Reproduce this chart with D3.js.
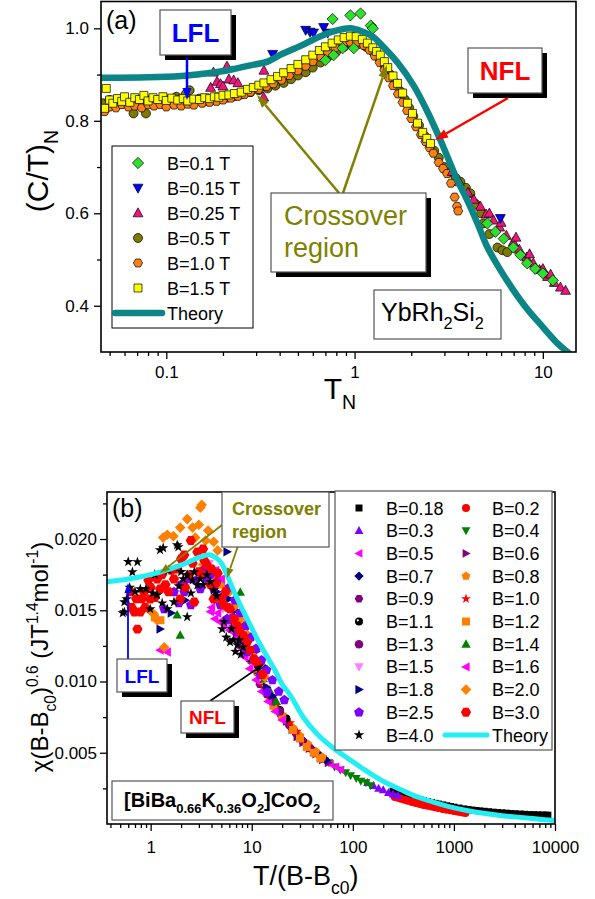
<!DOCTYPE html>
<html>
<head>
<meta charset="utf-8">
<script src="https://cdn.jsdelivr.net/npm/d3@7"></script>
<style>
  body { margin: 0; background: #fff; }
  svg text { font-family: "Liberation Sans", Arial, sans-serif; white-space: pre; }
</style>
</head>
<body>
<svg id="chart" width="595" height="899"></svg>
<script>
// ---------- panel (a): YbRh2Si2, (C/T)_N vs T_N ----------
const aB01 = [[0.70,0.931],[0.764,1.02],[0.774,0.942],[0.864,0.957],[0.95,1.028],[0.99,0.957],[1.076,1.032],[1.22,1.006],[1.25,1.0],
  [5.07,0.578],[5.6,0.56],[6.2,0.545],[6.97,0.526],[7.6,0.51],[8.25,0.492],[9.1,0.48],[10,0.47],[11.3,0.455]];
const aB015 = [[0.367,0.944],[0.55,0.996],[0.58,0.992],[0.605,0.99],[0.685,1.002],[0.72,0.99],[5.95,0.589]];
const aB025 = [[0.172,0.872],[0.178,0.905],[0.186,0.885],[0.194,0.88],[0.2,0.875],[0.21,0.918],[0.215,0.89],[0.228,0.888],[0.24,0.882],[0.33,0.909],[0.329,0.851],
  [3.3,0.69],[3.6,0.668],[4.0,0.645],[4.3,0.63],[4.66,0.615],[5.0,0.598],[5.2,0.6],[5.47,0.585],[5.9,0.57],[6.0,0.58],[6.4,0.552],[6.97,0.538],[7.2,0.548],
  [7.5,0.522],[8.2,0.505],[8.5,0.512],[8.9,0.492],[9.6,0.478],[10,0.48],[10.6,0.463],[11,0.468],[11.5,0.45],[12.4,0.44],[13.2,0.433]];
const aB05 = [[0.046,0.838],[0.05,0.845],[0.053,0.835],[0.057,0.842],[0.062,0.838],[0.067,0.816],[0.07,0.845],[0.074,0.84],[0.078,0.816],[0.083,0.846],
  [0.09,0.84],[0.097,0.85],[0.105,0.845],[0.113,0.852],[0.12,0.848],[0.127,0.858],[0.133,0.866],[0.14,0.845],[0.15,0.848],[0.16,0.842],[0.175,0.845],
  [0.19,0.847],[0.21,0.85],[0.23,0.853],[0.25,0.857],[0.28,0.862],[0.31,0.866],[0.345,0.87],[0.38,0.876],[0.42,0.882],[0.46,0.89],[0.5,0.898],
  [0.55,0.905],[0.6,0.915],[0.66,0.926],[0.72,0.938],[0.8,0.95],[0.88,0.96],[0.96,0.966],[1.05,0.966],[1.15,0.96],[1.25,0.95],[1.35,0.935],
  [1.45,0.918],[1.55,0.9],[1.65,0.882],[1.75,0.864],[1.85,0.846],[1.95,0.828],[2.05,0.81],[2.2,0.79],[2.35,0.768],[2.5,0.75],[2.65,0.735],
  [2.8,0.72],[3.0,0.70],[3.2,0.688],[3.45,0.676],[3.65,0.668],[3.9,0.655],[4.12,0.643],[4.4,0.62],[4.7,0.6],[4.83,0.578],[5.2,0.555],
  [5.74,0.526],[6.1,0.52],[6.47,0.516]];
const aB10 = [[0.047,0.82],[0.05,0.83],[0.054,0.828],[0.058,0.835],[0.063,0.83],[0.068,0.832],[0.074,0.828],[0.08,0.835],[0.086,0.832],[0.093,0.835],
  [0.1,0.83],[0.11,0.834],[0.12,0.832],[0.13,0.836],[0.14,0.834],[0.155,0.838],[0.17,0.84],[0.185,0.842],[0.2,0.845],[0.22,0.849],[0.24,0.853],
  [0.26,0.857],[0.28,0.862],[0.31,0.868],[0.34,0.874],[0.37,0.88],[0.41,0.888],[0.45,0.898],[0.5,0.908],[0.55,0.918],[0.6,0.928],[0.66,0.938],
  [0.72,0.948],[0.79,0.958],[0.87,0.966],[0.95,0.97],[1.03,0.97],[1.12,0.963],[1.2,0.953],[1.28,0.94],[1.36,0.926],[1.44,0.91],[1.52,0.893],
  [1.6,0.876],[1.7,0.858],[1.8,0.84],[1.9,0.822],[2.0,0.805],[2.12,0.787],[2.25,0.77],[2.38,0.755],[2.5,0.742],[2.62,0.73],[2.8,0.71],
  [2.95,0.697],[3.1,0.686],[3.25,0.665],[3.4,0.635],[3.5,0.615],[3.55,0.605]];
const aB15 = [[0.047,0.827],[0.048,0.87],[0.05,0.845],[0.052,0.838],[0.055,0.848],[0.058,0.842],[0.06,0.852],[0.064,0.84],[0.068,0.85],[0.072,0.846],
  [0.076,0.855],[0.08,0.843],[0.085,0.85],[0.09,0.846],[0.096,0.852],[0.1,0.844],[0.107,0.849],[0.115,0.845],[0.123,0.848],[0.13,0.843],[0.14,0.847],
  [0.15,0.846],[0.16,0.85],[0.17,0.848],[0.18,0.852],[0.19,0.851],[0.2,0.855],[0.215,0.856],[0.23,0.859],[0.25,0.862],[0.27,0.868],[0.29,0.872],
  [0.31,0.877],[0.33,0.882],[0.36,0.889],[0.39,0.896],[0.42,0.904],[0.46,0.913],[0.5,0.922],[0.55,0.932],[0.6,0.942],[0.65,0.952],[0.7,0.96],
  [0.76,0.968],[0.82,0.975],[0.88,0.98],[0.95,0.983],[1.02,0.982],[1.1,0.976],[1.17,0.968],[1.25,0.958],[1.31,0.95],[1.37,0.942],[1.44,0.928],
  [1.5,0.915],[1.6,0.897],[1.69,0.881],[1.8,0.86],[1.91,0.838],[2.03,0.816],[2.16,0.795],[2.3,0.775],[2.42,0.762],[2.53,0.751]];
const aTheory = [[0.045,0.893],[0.08,0.894],[0.12,0.897],[0.152,0.901],[0.19,0.906],[0.228,0.912],[0.28,0.92],[0.345,0.928],[0.405,0.943],
  [0.517,0.962],[0.65,0.982],[0.8,0.995],[0.95,1.0],[1.1,0.993],[1.25,0.982],[1.4,0.963],[1.7,0.925],[2.06,0.876],[2.45,0.818],[2.86,0.758],
  [3.52,0.671],[3.97,0.628],[4.5,0.578],[5.07,0.527],[6.0,0.475],[6.97,0.434],[8.3,0.392],[10,0.354],[12,0.318],[13.5,0.300],[14.5,0.288]];
const aLabels = ["B=0.1 T", "B=0.15 T", "B=0.25 T", "B=0.5 T", "B=1.0 T", "B=1.5 T"];
const aTicksX = [0.1, 1, 10];
const aTicksY = [0.4, 0.6, 0.8, 1.0];
const aMinorY = [0.5, 0.7, 0.9];

// ---------- panel (b): [BiBa0.66K0.36O2]CoO2 ----------
const bB018 = [[250,0.0023],[275,0.0022],[300,0.0021],[325,0.002],[350,0.00195],[385,0.00187],[420,0.0018],[460,0.00172],[500,0.00165],[550,0.00157],
  [600,0.0015],[650,0.00145],[700,0.0014],[775,0.00134],[850,0.00128],[925,0.00123],[1000,0.00118],[1120,0.00112],[1250,0.00106],[1380,0.00102],
  [1500,0.00098],[1650,0.00095],[1800,0.00092],[2000,0.00089],[2200,0.00086],[2450,0.00083],[2700,0.0008],[3000,0.00078],[3300,0.00076],
  [3650,0.00074],[4000,0.00072],[4500,0.0007],[5000,0.00068],[5600,0.00066],[6200,0.00065],[6800,0.00064],[7500,0.00063],[8000,0.00062],[8500,0.00062]];
const bB02 = [[260,0.0019],[280,0.00184],[300,0.00178],[325,0.0017],[350,0.00163],[385,0.00155],[420,0.00148],[460,0.00141],[500,0.00134],
  [550,0.00128],[600,0.00122],[650,0.00117],[700,0.00112],[775,0.00106],[850,0.001],[925,0.00096],[1000,0.00092],[1075,0.00088],[1150,0.00084],
  [1225,0.00081],[1300,0.00078]];
const bB03 = [[140,0.0029],[160,0.0027],[180,0.0025],[200,0.0024],[225,0.0022],[250,0.0021],[280,0.002]];
const bB04 = [[50,0.0046],[58,0.0043],[66,0.004],[75,0.0038],[85,0.0036],[95,0.0034],[108,0.0032],[120,0.003],[135,0.0029],[150,0.0027]];
const bB05 = [[28,0.0062],[32,0.0057],[36,0.0054],[41,0.005],[47,0.0047],[53,0.0044],[60,0.0042],[68,0.004],[76,0.0038]];
const bB06 = [[22,0.0072],[25,0.0066],[28,0.0061],[32,0.0057],[37,0.0053],[43,0.0049],[50,0.0045],[57,0.0043]];
const bB07 = [[18,0.0079],[21,0.0074],[24,0.0068],[28,0.0063],[33,0.0058],[39,0.0053],[46,0.0049],[54,0.0045]];
const bB08 = [[15,0.0088],[18,0.0081],[21,0.0075],[25,0.0068],[30,0.0062],[36,0.0056],[43,0.0051],[50,0.0047]];
const bB09 = [[12,0.0098],[14,0.0091],[16.5,0.0083],[19.5,0.0076],[23,0.007],[27,0.0064],[32,0.0058],[38,0.0053]];
const bB10 = [[10,0.0112],[11.5,0.0104],[13,0.0097],[15,0.009],[17.5,0.0083],[20,0.0077],[24,0.0071],[28,0.0065]];
const bB11 = [[8.5,0.0122],[9.5,0.0116],[11,0.0108],[12.5,0.0101],[14,0.0095],[16,0.0088],[19,0.008],[22,0.0074]];
const bB12 = [[1.1,0.0145],[1.25,0.0143],[4.3,0.0175],[5,0.0168],[7,0.0135],[8.2,0.0126],[9.5,0.0118],[11,0.0109],[12.5,0.0101],[14.2,0.0093],
  [16.4,0.0083],[20,0.0075],[25.7,0.0066],[30,0.006],[35,0.0054],[41,0.005],[47.6,0.0046]];
const bB13 = [[6,0.0143],[7,0.0135],[8,0.0127],[9.2,0.0118],[10.5,0.011],[12,0.0102],[14,0.0094],[16.5,0.0086],[19,0.0079]];
const bB14 = [[1.96,0.01326],[1.83,0.01467],[7.7,0.01628],[5.5,0.0152],[6.3,0.0144],[7.2,0.0137],[8.3,0.0128],[9.5,0.012],[11,0.0111],[13,0.0102],[15,0.0094],[17.5,0.0086]];
const bB15 = [[3.3,0.0186],[3.8,0.0183],[4.3,0.0178],[4.5,0.0158],[5.2,0.0151],[6,0.0144],[7,0.0135],[8,0.0126],[9.2,0.0118],[10.5,0.011],[12,0.0103],[14,0.0095]];
const bB16 = [[1.24,0.0122],[1.46,0.01207],[3.5,0.0176],[3.9,0.0149],[4.0,0.0152],[4.3,0.0144],[4.4,0.0178],[4.6,0.0148],[4.8,0.0142],[5,0.0172],[5.3,0.014],
  [5.6,0.0144],[6,0.0136],[6.4,0.0139],[6.8,0.013],[7.6,0.0124],[8.5,0.0117],[9.5,0.0109],[11,0.0101],[12.5,0.0093],[14.5,0.0086],[17,0.0079],[20,0.0073]];
const bB18 = [[1.24,0.01368],[1.6,0.0148],[2.2,0.0157],[4.5,0.0163],[5.7,0.0191],[6,0.0158],[7,0.015],[8.2,0.014],[9.5,0.0131],[11,0.0121],[13,0.0111],[14,0.0096],[16,0.009]];
const bB20 = [[0.9,0.0152],[1.05,0.0148],[1.16,0.0143],[1.36,0.0124],[1.33,0.0201],[1.46,0.0203],[1.68,0.0202],[1.96,0.0208],[2.3,0.0214],[2.6,0.0208],
  [2.76,0.0201],[3.0,0.021],[3.1,0.0222],[3.2,0.0224],[3.3,0.0182],[3.5,0.0199],[3.7,0.0206],[4.2,0.0198],[4.6,0.0192],
  [6,0.0163],[6.8,0.0153],[7.8,0.0143],[9,0.0133],[10.5,0.0122],[12,0.0112],[13.5,0.0103]];
const bB25 = [[1.36,0.01509],[1.7,0.01628],[1.9,0.0155],[2.0,0.0168],[2.15,0.01628],[2.4,0.0172],[2.5,0.01537],[2.8,0.0171],[3.1,0.01649],[3.3,0.0178],
  [3.6,0.0172],[3.9,0.0175],[4.2,0.01649],[4.5,0.017],[4.9,0.01537],[5.2,0.016],[5.7,0.01439],[6.5,0.0145],[7.2,0.01347],[8,0.013],[9,0.01207],
  [10.5,0.0115],[12.2,0.01046],[14.2,0.00926],[6.0,0.0166],[6.8,0.0157],[7.7,0.0148],[8.7,0.0139],[9.8,0.0131],[11,0.0123],[12.5,0.0115],[14,0.0108],
  [16,0.0101],[18.5,0.0093],[21,0.0087]];
const bB30 = [[0.63,0.0163],[0.65,0.0152],[0.69,0.01488],[0.72,0.0158],[0.74,0.01368],[0.79,0.01488],[0.82,0.0158],[0.86,0.01628],[0.88,0.0152],
  [0.95,0.0171],[0.99,0.01579],[1.0,0.0166],[1.1,0.0159],[1.16,0.01719],[1.24,0.01649],[1.3,0.0175],[1.4,0.0168],[1.5,0.0163],[1.6,0.0178],
  [1.7,0.01719],[1.83,0.01789],[1.96,0.01579],[2.0,0.0186],[2.15,0.01888],[2.2,0.0166],[2.4,0.0175],[2.5,0.0199],[2.6,0.0183],[2.7,0.01558],
  [2.9,0.01909],[3.0,0.0177],[3.2,0.0175],[3.3,0.0193],[3.4,0.0185],[3.6,0.01818],[3.9,0.0168],[4.0,0.0179],[4.2,0.01579],[4.4,0.0169],
  [4.6,0.0176],[5.0,0.0158],[5.3,0.01537],[5.5,0.0163],[5.8,0.0152],[6.1,0.01509],[6.7,0.01439],[7.2,0.0139],[7.7,0.01347],[8.3,0.0132],
  [9,0.01277],[9.6,0.0122],[10.6,0.01158],[11.5,0.0112],[12.8,0.0105]];
const bB40 = [[0.53,0.01481],[0.55,0.01558],[0.55,0.01488],[0.58,0.01579],[0.6,0.0184],[0.62,0.0166],[0.66,0.01768],[0.7,0.0163],[0.74,0.01839],
  [0.79,0.01649],[0.9,0.0165],[0.99,0.01509],[1.05,0.0162],[1.1,0.0175],[1.16,0.01607],[1.24,0.01923],[1.3,0.0155],[1.33,0.01937],[1.46,0.01509],
  [1.5,0.0178],[1.7,0.01558],[1.83,0.01958],[1.88,0.01944],[1.9,0.0167],[2.0,0.0177],[2.1,0.0172],[2.3,0.01453],[2.3,0.01747],[2.5,0.0162],
  [2.6,0.0171],[2.7,0.01768],[2.9,0.01677],[3.1,0.0172],[3.3,0.0168],[3.6,0.01747],[3.9,0.017],[4.2,0.0164],[4.5,0.016],[5.1,0.01368],
  [5.3,0.0142],[5.6,0.0131],[6.1,0.01277],[6.3,0.0137],[6.6,0.01291],[6.9,0.0121],[7.2,0.01256],[7.5,0.0129],[7.8,0.0119],[8.2,0.0124]];
const bTheory = [[0.37,0.0170],[0.6,0.01719],[1.24,0.01768],[2.15,0.01825],[3.1,0.01874],[3.9,0.01888],[4.9,0.01839],[5.7,0.01747],[6.7,0.01628],
  [9,0.01439],[12.2,0.01256],[16.7,0.01088],[20,0.0098],[24,0.00905],[33,0.0074],[44.6,0.0063],[65,0.0053],[94,0.0045],[138,0.0037],[200,0.003],
  [300,0.0024],[434,0.0019],[620,0.00155],[920,0.0012],[1340,0.00095],[1970,0.00075],[2870,0.0006],[4000,0.0005],[6000,0.00038],[10000,0.00025]];
const bLabels = ["B=0.18","B=0.2","B=0.3","B=0.4","B=0.5","B=0.6","B=0.7","B=0.8","B=0.9","B=1.0","B=1.1",
  "B=1.2","B=1.3","B=1.4","B=1.5","B=1.6","B=1.8","B=2.0","B=2.5","B=3.0","B=4.0"];
const bTicksX = [1, 10, 100, 1000, 10000];
const bTicksY = [0.005, 0.010, 0.015, 0.020];
const bMinorY = [0.0025, 0.0075, 0.0125, 0.0175, 0.0225];

// ---------- drawing ----------
const svg = d3.select("#chart");
const FONT = "'Liberation Sans', Arial, sans-serif";

function sym(type, s) {
  const h = s / 2;
  const P = pts => "M" + pts.map(p => p[0].toFixed(2) + "," + p[1].toFixed(2)).join("L") + "Z";
  const poly = (n, r, rot) => d3.range(n).map(i => [r * Math.cos(rot + i * 2 * Math.PI / n), r * Math.sin(rot + i * 2 * Math.PI / n)]);
  switch (type) {
    case "square": return P([[-h, -h], [h, -h], [h, h], [-h, h]]);
    case "diamond": return P([[0, -h * 1.25], [h * 1.25, 0], [0, h * 1.25], [-h * 1.25, 0]]);
    case "up": return P([[0, -h * 1.15], [h * 1.1, h * 0.85], [-h * 1.1, h * 0.85]]);
    case "down": return P([[0, h * 1.15], [h * 1.1, -h * 0.85], [-h * 1.1, -h * 0.85]]);
    case "left": return P([[-h * 1.15, 0], [h * 0.85, -h * 1.1], [h * 0.85, h * 1.1]]);
    case "right": return P([[h * 1.15, 0], [-h * 0.85, -h * 1.1], [-h * 0.85, h * 1.1]]);
    case "hex": return P(poly(6, h * 1.08, 0));
    case "pent": return P(poly(5, h * 1.15, -Math.PI / 2));
    case "star": return P(d3.range(10).map(i => {
      const r = i % 2 ? h * 0.5 : h * 1.3, a = -Math.PI / 2 + i * Math.PI / 5;
      return [r * Math.cos(a), r * Math.sin(a)];
    }));
    default: return `M${h},0A${h},${h} 0 1,1 ${-h},0A${h},${h} 0 1,1 ${h},0Z`;
  }
}

function drawMarker(g, type, x, y, s, fill, stroke) {
  g.append("path").attr("d", sym(type === "ball" ? "circle" : type, s))
    .attr("transform", `translate(${x},${y})`)
    .attr("fill", fill).attr("stroke", stroke || "none").attr("stroke-width", 0.7);
  if (type === "ball") g.append("circle").attr("cx", x - s * 0.15).attr("cy", y - s * 0.15).attr("r", s * 0.14).attr("fill", "#fff");
}

function drawSeries(g, data, x, y, type, s, fill, stroke) {
  data.forEach(d => drawMarker(g, type, x(d[0]), y(d[1]), s, fill, stroke));
}

function rich(text, parts, size) {
  let shift = 0;
  parts.forEach(([t, k]) => {
    const target = k === "sub" ? size * 0.32 : k === "sup" ? -size * 0.4 : 0;
    text.append("tspan").attr("dy", target - shift).attr("font-size", k ? size * 0.65 : size).text(t);
    shift = target;
  });
  return text;
}

function arrow(g, x1, y1, x2, y2, color, w, hl, hw) {
  const a = Math.atan2(y2 - y1, x2 - x1);
  const bx = x2 - hl * Math.cos(a), by = y2 - hl * Math.sin(a);
  g.append("line").attr("x1", x1).attr("y1", y1).attr("x2", bx).attr("y2", by)
    .attr("stroke", color).attr("stroke-width", w);
  const px = -Math.sin(a) * hw / 2, py = Math.cos(a) * hw / 2;
  g.append("path").attr("d", `M${x2},${y2}L${bx + px},${by + py}L${bx - px},${by - py}Z`).attr("fill", color);
}

function box(g, x, y, w, h, shadow) {
  if (shadow) g.append("rect").attr("x", x + 5).attr("y", y + 5).attr("width", w).attr("height", h).attr("fill", "#000");
  g.append("rect").attr("x", x).attr("y", y).attr("width", w).attr("height", h)
    .attr("fill", "#fff").attr("stroke", "#555").attr("stroke-width", 1.2);
}

function axes(g, x, y, xMaj, xFmt, xPad, yMaj, yFmt, yPad, yMin) {
  const b = y.range()[0], l = x.range()[0];
  const xMin = x.ticks().filter(t => !xMaj.some(m => Math.abs(m - t) < 1e-9 * m));
  const ax = g.append("g").attr("transform", `translate(0,${b})`);
  ax.call(d3.axisBottom(x).tickValues(xMaj).tickSize(7).tickPadding(xPad).tickFormat(xFmt));
  ax.append("g").call(d3.axisBottom(x).tickValues(xMin).tickSize(4).tickFormat(""));
  const ay = g.append("g").attr("transform", `translate(${l},0)`);
  ay.call(d3.axisLeft(y).tickValues(yMaj).tickSize(7).tickPadding(yPad).tickFormat(yFmt));
  ay.append("g").call(d3.axisLeft(y).tickValues(yMin).tickSize(4).tickFormat(""));
  g.selectAll(".domain").remove();
  g.selectAll(".tick line").attr("stroke", "#000").attr("stroke-width", 1.3);
  g.selectAll(".tick text").attr("font-size", 17).attr("font-family", FONT).attr("fill", "#000");
}

const smooth = d3.curveCatmullRom.alpha(0.5);

// ===== panel (a) =====
const xa = d3.scaleLog().domain([0.045, 15]).range([101, 576]);
const ya = d3.scaleLinear().domain([0.30, 1.058]).range([352, 1.5]);
const ga = svg.append("g");
svg.append("clipPath").attr("id", "clipA").append("rect").attr("x", 101).attr("y", 1.5).attr("width", 475).attr("height", 350.5);
const da = ga.append("g").attr("clip-path", "url(#clipA)");

const aStyle = [
  { data: aB01, type: "diamond", s: 9, fill: "#2EE02E" },
  { data: aB015, type: "down", s: 9, fill: "#0000FF" },
  { data: aB025, type: "up", s: 9, fill: "#F0147F" },
  { data: aB05, type: "circle", s: 9, fill: "#7D7A00" },
  { data: aB10, type: "hex", s: 8.5, fill: "#FF8012" },
  { data: aB15, type: "square", s: 8, fill: "#FFFF00" }
];
[3, 4, 5, 2, 1, 0].forEach(i => {
  const st = aStyle[i];
  drawSeries(da, st.data, xa, ya, st.type, st.s, st.fill, "#000");
});
da.append("path").datum(aTheory)
  .attr("d", d3.line().x(d => xa(d[0])).y(d => ya(d[1])).curve(smooth))
  .attr("fill", "none").attr("stroke", "#0B8585").attr("stroke-width", 6.5);

ga.append("rect").attr("x", 101).attr("y", 1.5).attr("width", 475).attr("height", 350.5)
  .attr("fill", "none").attr("stroke", "#000").attr("stroke-width", 1.6);
axes(ga, xa, ya, aTicksX, d3.format("~g"), 7, aTicksY, d3.format(".1f"), 5, aMinorY);

ga.append("text").attr("x", 106).attr("y", 29).attr("font-size", 25).text("(a)");
rich(ga.append("text").attr("transform", "translate(48,171) rotate(-90)").attr("text-anchor", "middle"),
  [["(C/T)"], ["N", "sub"]], 30);
rich(ga.append("text").attr("x", 340).attr("y", 399).attr("text-anchor", "middle"), [["T"], ["N", "sub"]], 30);

// legend (a)
ga.append("rect").attr("x", 112).attr("y", 146).attr("width", 141).attr("height", 182)
  .attr("fill", "#fff").attr("stroke", "#000").attr("stroke-width", 1);
aLabels.forEach((lab, i) => {
  const st = aStyle[i], yy = 163 + 25 * i;
  drawMarker(ga, st.type, 138, yy, st.s, st.fill, "#000");
  ga.append("text").attr("x", 167).attr("y", yy + 6.5).attr("font-size", 18).text(lab);
});
ga.append("line").attr("x1", 115).attr("x2", 162).attr("y1", 313).attr("y2", 313)
  .attr("stroke", "#0B8585").attr("stroke-width", 6.5).attr("stroke-linecap", "round");
ga.append("text").attr("x", 167).attr("y", 319.5).attr("font-size", 18).text("Theory");

// annotations (a)
const olive = "#808000";
arrow(ga, 339, 193, 257, 95, olive, 2.5, 13, 9);
arrow(ga, 343, 193, 387, 65, olive, 2.5, 13, 9);
box(ga, 160, 10, 71, 45, true);
ga.append("text").attr("x", 195.5).attr("y", 42).attr("text-anchor", "middle").attr("font-size", 26)
  .attr("font-weight", "bold").attr("fill", "#0000FF").text("LFL");
arrow(ga, 187, 58, 187, 100, "#0000FF", 2.5, 12, 9);
box(ga, 468, 48, 74, 45, true);
ga.append("text").attr("x", 505).attr("y", 80).attr("text-anchor", "middle").attr("font-size", 26)
  .attr("font-weight", "bold").attr("fill", "#FF0000").text("NFL");
arrow(ga, 508, 98, 435, 140, "#FF0000", 2.5, 13, 9);
box(ga, 271, 193, 155, 79, true);
ga.append("text").attr("x", 284).attr("y", 225).attr("font-size", 27).attr("fill", olive).text("Crossover");
ga.append("text").attr("x", 284).attr("y", 257).attr("font-size", 27).attr("fill", olive).text("region");
box(ga, 374, 290, 127, 49, false);
rich(ga.append("text").attr("x", 381).attr("y", 321), [["YbRh"], ["2", "sub"], ["Si"], ["2", "sub"]], 25);

// ===== panel (b) =====
const xb = d3.scaleLog().domain([0.37, 10000]).range([107, 555]);
const yb = d3.scaleLinear().domain([0, 0.0233]).range([824, 492]);
const gb = svg.append("g");
svg.append("clipPath").attr("id", "clipB").append("rect").attr("x", 107).attr("y", 492).attr("width", 448).attr("height", 332);
const db = gb.append("g").attr("clip-path", "url(#clipB)");

const bStyle = [
  { data: bB018, type: "square", s: 7, fill: "#000000" },
  { data: bB02, type: "circle", s: 8, fill: "#FF0000" },
  { data: bB03, type: "up", s: 8, fill: "#8000FF" },
  { data: bB04, type: "down", s: 8, fill: "#008000" },
  { data: bB05, type: "left", s: 8, fill: "#FF00FF" },
  { data: bB06, type: "right", s: 8, fill: "#800080" },
  { data: bB07, type: "diamond", s: 7.5, fill: "#000080" },
  { data: bB08, type: "pent", s: 8, fill: "#FF8000" },
  { data: bB09, type: "hex", s: 8, fill: "#800080" },
  { data: bB10, type: "star", s: 8, fill: "#FF0000" },
  { data: bB11, type: "ball", s: 8, fill: "#000000" },
  { data: bB12, type: "square", s: 8, fill: "#FF8000" },
  { data: bB13, type: "circle", s: 8.5, fill: "#800080" },
  { data: bB14, type: "up", s: 8.5, fill: "#008000" },
  { data: bB15, type: "down", s: 8.5, fill: "#FF80FF" },
  { data: bB16, type: "left", s: 8.5, fill: "#FF00FF" },
  { data: bB18, type: "right", s: 8.5, fill: "#000080" },
  { data: bB20, type: "diamond", s: 8.5, fill: "#FF8000" },
  { data: bB25, type: "pent", s: 9, fill: "#8000FF" },
  { data: bB30, type: "hex", s: 9.5, fill: "#FF0000" },
  { data: bB40, type: "star", s: 8.5, fill: "#000000" }
];
bStyle.forEach(st => drawSeries(db, st.data, xb, yb, st.type, st.s, st.fill, null));
db.append("path").datum(bTheory)
  .attr("d", d3.line().x(d => xb(d[0])).y(d => yb(d[1])).curve(smooth))
  .attr("fill", "none").attr("stroke", "#22EEF4").attr("stroke-width", 5);

gb.append("rect").attr("x", 107).attr("y", 492).attr("width", 448).attr("height", 332)
  .attr("fill", "none").attr("stroke", "#000").attr("stroke-width", 1.6);
axes(gb, xb, yb, bTicksX, d3.format("d"), 10, bTicksY, d3.format(".3f"), 3, bMinorY);

gb.append("text").attr("x", 112).attr("y", 517).attr("font-size", 25).text("(b)");
rich(gb.append("text").attr("transform", "translate(48,657) rotate(-90)").attr("text-anchor", "middle"),
  [["\u03C7(B-B"], ["c0", "sub"], [")"], ["0.6", "sup"], ["\u00A0(JT"], ["1.4", "sup"], ["mol"], ["-1", "sup"], [")"]], 24);
rich(gb.append("text").attr("x", 253).attr("y", 885), [["T/(B-B"], ["c0", "sub"], [")"]], 27);

// legend (b)
gb.append("rect").attr("x", 335).attr("y", 491).attr("width", 217).attr("height", 259)
  .attr("fill", "#fff").attr("stroke", "#555").attr("stroke-width", 1.2);
bLabels.forEach((lab, i) => {
  const st = bStyle[i], col = i % 2, row = Math.floor(i / 2), yy = 508 + 22.7 * row;
  drawMarker(gb, st.type, col ? 466 : 359, yy, st.s, st.fill, null);
  gb.append("text").attr("x", col ? 492 : 386).attr("y", yy + 6.5).attr("font-size", 18).text(lab);
});
gb.append("line").attr("x1", 445).attr("x2", 487).attr("y1", 735).attr("y2", 735)
  .attr("stroke", "#22EEF4").attr("stroke-width", 5).attr("stroke-linecap", "round");
gb.append("text").attr("x", 492).attr("y", 741.5).attr("font-size", 18).text("Theory");

// annotations (b)
arrow(gb, 222, 525, 160, 573, olive, 1.8, 10, 7);
arrow(gb, 240, 540, 227, 578, olive, 1.8, 10, 7);
box(gb, 222, 492, 107, 55, false);
gb.append("text").attr("x", 232).attr("y", 515).attr("font-size", 18).attr("font-weight", "bold").attr("fill", olive).text("Crossover");
gb.append("text").attr("x", 232).attr("y", 538).attr("font-size", 18).attr("font-weight", "bold").attr("fill", olive).text("region");
arrow(gb, 128, 660, 128, 583, "#0000FF", 1.8, 10, 7);
box(gb, 117, 659, 50, 33, true);
gb.append("text").attr("x", 142).attr("y", 683).attr("text-anchor", "middle").attr("font-size", 19)
  .attr("font-weight", "bold").attr("fill", "#0000FF").text("LFL");
arrow(gb, 210, 701, 264, 664, "#000", 1.8, 10, 7);
box(gb, 181, 701, 53, 32, true);
gb.append("text").attr("x", 207.5).attr("y", 724).attr("text-anchor", "middle").attr("font-size", 19)
  .attr("font-weight", "bold").attr("fill", "#FF0000").text("NFL");
box(gb, 112, 781, 221, 39, false);
rich(gb.append("text").attr("x", 124).attr("y", 807).attr("font-weight", "bold"),
  [["[BiBa"], ["0.66", "sub"], ["K"], ["0.36", "sub"], ["O"], ["2", "sub"], ["]CoO"], ["2", "sub"]], 20);
</script>
</body>
</html>
